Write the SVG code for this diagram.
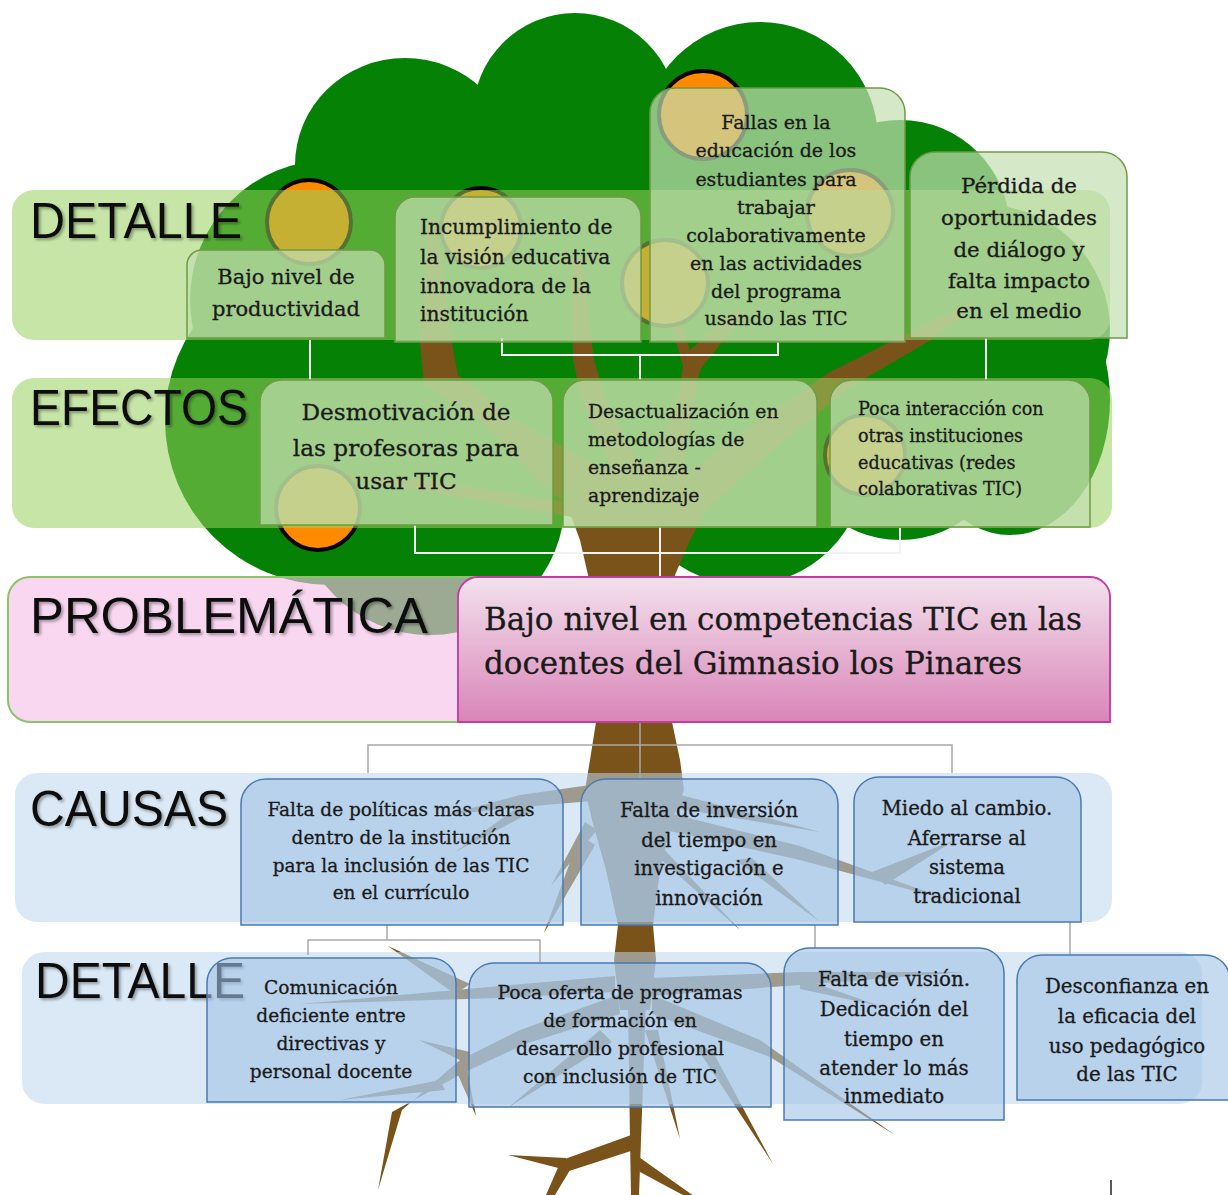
<svg xmlns="http://www.w3.org/2000/svg" width="1228" height="1195" viewBox="0 0 1228 1195">
<defs>
<style>
.crown{fill:#058205}
.wood{fill:#79531a}
.fruit{fill:#ff8a00;stroke:#000;stroke-width:4}
.bandG{fill:rgb(151,207,93);fill-opacity:0.55}
.bandP{fill:rgb(246,192,232);fill-opacity:0.63;stroke:#8cc46a;stroke-width:2}
.bandB{fill:rgb(189,215,238);fill-opacity:0.55}
.boxG{fill:rgb(195,222,176);fill-opacity:0.7;stroke:#6e9b45;stroke-width:1.5}
.boxB{fill:rgb(160,195,230);fill-opacity:0.6;stroke:#4a7ab0;stroke-width:1.5}
.lbl{font-family:"Liberation Sans",Arial,sans-serif;font-size:50px;fill:#111}
.t{font-family:"DejaVu Serif","Liberation Serif",serif;fill:#1a1a1a;stroke:#1a1a1a;stroke-width:0.3}
.c{text-anchor:middle}
.cw{fill:none;stroke:#f2f2f2;stroke-width:2}
.cg{fill:none;stroke:#a9a9a9;stroke-width:1.5}
</style>
<linearGradient id="pg" x1="0" y1="0" x2="0" y2="1">
<stop offset="0" stop-color="#f3e1ed"/>
<stop offset="1" stop-color="#d985b8"/>
</linearGradient>
<filter id="sh" x="-5%" y="-20%" width="115%" height="150%">
<feDropShadow dx="2" dy="2" stdDeviation="1.5" flood-color="#000" flood-opacity="0.35"/>
</filter>
</defs>

<g id="tree">
<g id="crown" class="crown">
<ellipse cx="405" cy="165" rx="110" ry="107"/>
<circle cx="575" cy="115" r="102"/>
<circle cx="760" cy="140" r="118"/>
<circle cx="900" cy="230" r="110"/>
<circle cx="985" cy="330" r="125"/>
<ellipse cx="1010" cy="400" rx="100" ry="135"/>
<circle cx="330" cy="300" r="140"/>
<circle cx="330" cy="420" r="165"/>
<circle cx="430" cy="500" r="135"/>
<circle cx="745" cy="465" r="120"/>
<circle cx="900" cy="430" r="110"/>
<ellipse cx="640" cy="300" rx="340" ry="210"/>
</g>
<g id="wood" class="wood">
<polygon points="560,500 480,420 424,384 420,344 428,220 436,220 452,344 458,375 515,420 605,470"/>
<polygon points="612,470 582,400 573,360 572,260 582,260 594,360 606,400 640,465"/>
<polygon points="650,470 678,400 683,366 664,300 672,298 690,350 738,308 744,314 700,370 692,410 682,470"/>
<polygon points="680,480 760,420 830,372 930,322 978,300 938,336 852,386 782,442 712,505"/>
<polygon points="585,505 430,480 300,470 430,492 590,520"/>
<polygon points="614,960 618,925 606,870 592,820 585,790 590,760 596,722 598,660 592,600 588,575 580,540 565,500 600,468 640,460 690,470 712,500 690,540 675,575 668,620 668,690 672,722 680,760 684,790 672,820 660,870 653,925 656,960 650,1010 620,1010"/>
<polygon points="628,1000 646,1000 641,1140 639,1195 631,1195 630,1140"/>
<polygon points="634,1134 562,1160 566,1172 634,1150"/>
<polygon points="566,1158 508,1155 566,1170"/>
<polygon points="560,1163 546,1195 555,1195 570,1170"/>
<polygon points="636,1155 722,1216 640,1172"/>
<polygon points="618,995 520,1030 460,1060 402,1110 378,1190 392,1112 465,1072 525,1044 620,1014"/>
<polygon points="615,976 500,986 300,1004 500,998 615,992"/>
<polygon points="455,994 388,946 470,984"/>
<polygon points="470,1052 419,1040 468,1064"/>
<polygon points="455,1068 476,1116 466,1062"/>
<polygon points="440,1080 340,1100 445,1090"/>
<polygon points="650,978 800,972 965,972 800,985 650,996"/>
<polygon points="800,978 880,1006 800,989"/>
<polygon points="652,995 760,1040 895,1135 770,1057 652,1014"/>
<polygon points="695,1045 773,1164 712,1050"/>
<polygon points="600,1030 509,1107 612,1042"/>
<polygon points="645,1030 680,1139 658,1030"/>
<polygon points="590,785 520,795 445,815 522,807 592,801"/>
<polygon points="525,802 455,852 532,812"/>
<polygon points="580,835 544,933 595,845"/>
<polygon points="585,822 551,886 597,830"/>
<polygon points="662,790 820,832 662,806"/>
<polygon points="665,812 800,846 955,902 800,860 665,830"/>
<polygon points="735,860 819,921 752,858"/>
<polygon points="872,872 955,840 885,885"/>
<polygon points="648,848 740,930 660,845"/>
</g>
<g id="fruits" class="fruit">
<circle cx="309" cy="222" r="42"/>
<circle cx="481" cy="228" r="40"/>
<circle cx="703" cy="115" r="44"/>
<circle cx="850" cy="213" r="43"/>
<circle cx="665" cy="283" r="43"/>
<circle cx="318" cy="508" r="42"/>
<circle cx="865" cy="455" r="40"/>
</g>
</g>

<g id="bands">
<rect id="band-detalle-top" class="bandG" x="12" y="190" width="1098" height="150" rx="22"/>
<rect id="band-efectos" class="bandG" x="12" y="378" width="1100" height="150" rx="22"/>
<rect id="band-problematica" class="bandP" x="8" y="577" width="1102" height="145" rx="22"/>
<rect id="band-causas" class="bandB" x="15" y="773" width="1097" height="149" rx="22"/>
<rect id="band-detalle-bottom" class="bandB" x="22" y="952" width="1180" height="152" rx="22"/>
</g>

<g id="labels" filter="url(#sh)">
<text class="lbl" x="30" y="238" textLength="212" lengthAdjust="spacingAndGlyphs">DETALLE</text>
<text class="lbl" x="30" y="425" textLength="218" lengthAdjust="spacingAndGlyphs">EFECTOS</text>
<text class="lbl" x="30" y="633" textLength="398" lengthAdjust="spacingAndGlyphs">PROBLEMÁTICA</text>
<text class="lbl" x="30" y="826" textLength="198" lengthAdjust="spacingAndGlyphs">CAUSAS</text>
<text class="lbl" x="35" y="998" textLength="210" lengthAdjust="spacingAndGlyphs">DETALLE</text>
</g>

<g id="connectors">
<path class="cw" d="M310,340 V380"/>
<path class="cw" d="M502,338 V355 H778 V342 M640,355 V380"/>
<path class="cw" d="M986,338 V380"/>
<path class="cw" d="M415,525 V553 H900 V528 M660,527 V577"/>
<path class="cg" d="M640,722 V779 M368,773 V745 H952 V773"/>
<path class="cg" d="M387,925 V940 M308,955 V940 H540 V962"/>
<path class="cg" d="M815,925 V948"/>
<path class="cg" d="M1070,922 V955"/>
<path fill="none" stroke="#222" stroke-width="1.5" d="M1111,1180 V1195"/>
</g>

<g id="node-bajo-nivel">
<path class="boxG" d="M187,338 V265 A15,15 0 0 1 202,250 H370 A15,15 0 0 1 385,265 V338 Z"/>
<text class="t c" font-size="21" x="286"><tspan x="286" y="284">Bajo nivel de</tspan><tspan x="286" y="316">productividad</tspan></text>
</g>
<g id="node-incumplimiento">
<path class="boxG" d="M395,342 V217 A20,20 0 0 1 415,197 H621 A20,20 0 0 1 641,217 V342 Z"/>
<text class="t" font-size="20.2"><tspan x="420" y="234">Incumplimiento de</tspan><tspan x="420" y="264">la visión educativa</tspan><tspan x="420" y="293">innovadora de la</tspan><tspan x="420" y="321">institución</tspan></text>
</g>
<g id="node-fallas">
<path class="boxG" d="M650,342 V113 A25,25 0 0 1 675,88 H880 A25,25 0 0 1 905,113 V342 Z"/>
<text class="t c" font-size="19"><tspan x="776" y="129">Fallas en la</tspan><tspan x="776" y="157">educación de los</tspan><tspan x="776" y="186">estudiantes para</tspan><tspan x="776" y="214">trabajar</tspan><tspan x="776" y="242">colaborativamente</tspan><tspan x="776" y="270">en las actividades</tspan><tspan x="776" y="298">del programa</tspan><tspan x="776" y="325">usando las TIC</tspan></text>
</g>
<g id="node-perdida">
<path class="boxG" d="M910,338 V177 A25,25 0 0 1 935,152 H1102 A25,25 0 0 1 1127,177 V338 Z"/>
<text class="t c" font-size="21.3"><tspan x="1019" y="193">Pérdida de</tspan><tspan x="1019" y="225">oportunidades</tspan><tspan x="1019" y="257">de diálogo y</tspan><tspan x="1019" y="288">falta impacto</tspan><tspan x="1019" y="318">en el medio</tspan></text>
</g>

<g id="node-desmotivacion">
<path class="boxG" d="M260,525 V402 A22,22 0 0 1 282,380 H531 A22,22 0 0 1 553,402 V525 Z"/>
<text class="t c" font-size="23.2"><tspan x="406" y="420">Desmotivación de</tspan><tspan x="406" y="456">las profesoras para</tspan><tspan x="406" y="489">usar TIC</tspan></text>
</g>
<g id="node-desactualizacion">
<path class="boxG" d="M563,527 V402 A22,22 0 0 1 585,380 H795 A22,22 0 0 1 817,402 V527 Z"/>
<text class="t" font-size="18.8"><tspan x="588" y="418">Desactualización en</tspan><tspan x="588" y="446">metodologías de</tspan><tspan x="588" y="474">enseñanza -</tspan><tspan x="588" y="502">aprendizaje</tspan></text>
</g>
<g id="node-poca-interaccion">
<path class="boxG" d="M830,527 V402 A22,22 0 0 1 852,380 H1068 A22,22 0 0 1 1090,402 V527 Z"/>
<text class="t" font-size="17.6"><tspan x="858" y="415">Poca interacción con</tspan><tspan x="858" y="442">otras instituciones</tspan><tspan x="858" y="469">educativas (redes</tspan><tspan x="858" y="495">colaborativas TIC)</tspan></text>
</g>

<g id="node-problema">
<path d="M458,722 V597 A20,20 0 0 1 478,577 H1090 A20,20 0 0 1 1110,597 V722 Z" fill="url(#pg)" stroke="#c53a9d" stroke-width="1.8"/>
<text class="t" font-size="31"><tspan x="484" y="630">Bajo nivel en competencias TIC en las</tspan><tspan x="484" y="674">docentes del Gimnasio los Pinares</tspan></text>
</g>

<g id="node-politicas">
<path class="boxB" d="M241,925 V804 A25,25 0 0 1 266,779 H538 A25,25 0 0 1 563,804 V925 Z"/>
<text class="t c" font-size="18.5"><tspan x="401" y="816">Falta de políticas más claras</tspan><tspan x="401" y="844">dentro de la institución</tspan><tspan x="401" y="872">para la inclusión de las TIC</tspan><tspan x="401" y="899">en el currículo</tspan></text>
</g>
<g id="node-inversion">
<path class="boxB" d="M581,925 V804 A25,25 0 0 1 606,779 H813 A25,25 0 0 1 838,804 V925 Z"/>
<text class="t c" font-size="19.6"><tspan x="709" y="817">Falta de inversión</tspan><tspan x="709" y="847">del tiempo en</tspan><tspan x="709" y="875">investigación e</tspan><tspan x="709" y="905">innovación</tspan></text>
</g>
<g id="node-miedo">
<path class="boxB" d="M854,922 V802 A25,25 0 0 1 879,777 H1056 A25,25 0 0 1 1081,802 V922 Z"/>
<text class="t c" font-size="19.6"><tspan x="967" y="815">Miedo al cambio.</tspan><tspan x="967" y="845">Aferrarse al</tspan><tspan x="967" y="874">sistema</tspan><tspan x="967" y="903">tradicional</tspan></text>
</g>

<g id="node-comunicacion">
<path class="boxB" d="M207,1102 V983 A25,25 0 0 1 232,958 H431 A25,25 0 0 1 456,983 V1102 Z"/>
<text class="t c" font-size="18.6"><tspan x="331" y="994">Comunicación</tspan><tspan x="331" y="1022">deficiente entre</tspan><tspan x="331" y="1050">directivas y</tspan><tspan x="331" y="1078">personal docente</tspan></text>
</g>
<g id="node-oferta">
<path class="boxB" d="M469,1107 V988 A25,25 0 0 1 494,963 H746 A25,25 0 0 1 771,988 V1107 Z"/>
<text class="t c" font-size="18.7"><tspan x="620" y="999">Poca oferta de programas</tspan><tspan x="620" y="1027">de formación en</tspan><tspan x="620" y="1055">desarrollo profesional</tspan><tspan x="620" y="1083">con inclusión de TIC</tspan></text>
</g>
<g id="node-vision">
<path class="boxB" d="M784,1120 V973 A25,25 0 0 1 809,948 H979 A25,25 0 0 1 1004,973 V1120 Z"/>
<text class="t c" font-size="19.8"><tspan x="894" y="986">Falta de visión.</tspan><tspan x="894" y="1016">Dedicación del</tspan><tspan x="894" y="1046">tiempo en</tspan><tspan x="894" y="1075">atender lo más</tspan><tspan x="894" y="1103">inmediato</tspan></text>
</g>
<g id="node-desconfianza">
<path class="boxB" d="M1017,1100 V980 A25,25 0 0 1 1042,955 H1205 A25,25 0 0 1 1230,980 V1100 Z"/>
<text class="t c" font-size="19.8"><tspan x="1127" y="993">Desconfianza en</tspan><tspan x="1127" y="1023">la eficacia del</tspan><tspan x="1127" y="1053">uso pedagógico</tspan><tspan x="1127" y="1081">de las TIC</tspan></text>
</g>
</svg>
